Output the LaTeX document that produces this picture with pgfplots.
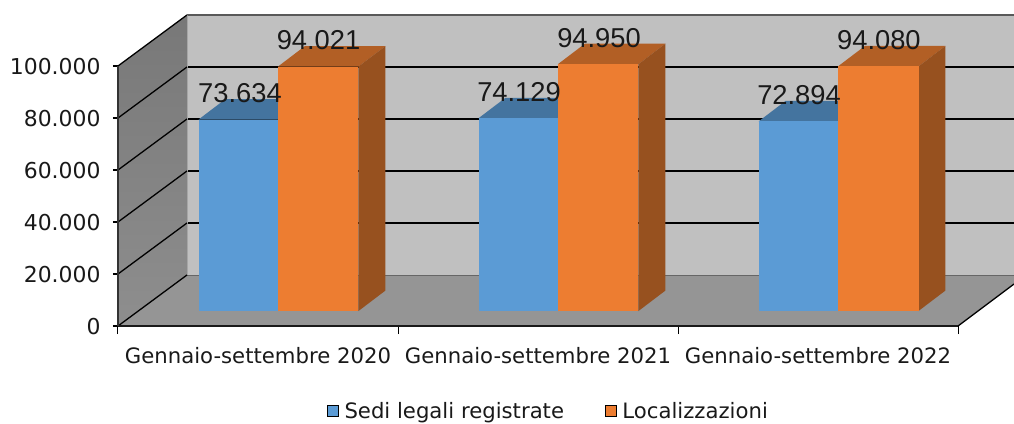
\documentclass[border=0pt]{standalone}
\usepackage{pgfplots}
\pgfplotsset{compat=1.18}
\usepackage{fontspec}
\setmainfont{DejaVu Sans}
\newfontfamily\arial{Liberation Sans}
\definecolor{wallback}{HTML}{C0C0C0}
\definecolor{floorc}{HTML}{959595}
\definecolor{walltop}{HTML}{787878}
\definecolor{wallbot}{HTML}{8E8E8E}
\definecolor{blueF}{HTML}{5B9BD5}
\definecolor{blueT}{HTML}{44749F}
\definecolor{orgF}{HTML}{ED7D31}
\definecolor{orgT}{HTML}{B25F25}
\definecolor{orgS}{HTML}{97511F}
\begin{document}
\begin{tikzpicture}[x=1pt,y=1pt]
\useasboundingbox (-118pt,-97pt) rectangle (896pt,326pt);
\begin{axis}[
  at={(0pt,0pt)}, anchor=origin,
  width=840pt, height=260pt, scale only axis, clip=false,
  xmin=0, xmax=3, ymin=0, ymax=100000,
  axis lines=left, axis line style={-, line width=1.6pt, black!85},
  axis on top=false,
  xtick={0.5,1.5,2.5},
  xticklabels={Gennaio-settembre 2020,Gennaio-settembre 2021,Gennaio-settembre 2022},
  minor xtick={0,1,2,3},
  major x tick style={draw=none},
  minor tick length=8pt,
  minor tick style={line width=1pt,black},
  ytick={0,20000,40000,60000,80000,100000},
  major tick length=5pt,
  tick align=outside,
  y tick style={line width=1.4pt,black},
  scaled y ticks=false,
  /pgf/number format/fixed,
  /pgf/number format/1000 sep={.},
  /pgf/number format/assume math mode=true,
  tick label style={text=black!90},
  yticklabel style={font=\fontsize{21.9}{22}\selectfont, xshift=-9pt, yshift=-1pt},
  xticklabel style={font=\fontsize{21.2}{22}\selectfont, yshift=-13pt},
]
\addplot[forget plot, fill=wallback, draw=none] coordinates {(0.2464,19615)(3.2,19615)(3.2,119615)(0.2464,119615)} --cycle;
\addplot[forget plot, top color=walltop, bottom color=wallbot, draw=none] coordinates {(0,0)(0.2464,19615)(0.2464,119615)(0,100000)} --cycle;
\addplot[forget plot, fill=floorc, draw=none] coordinates {(0,0)(3,0)(3.2,16150)(3.2,19615)(0.2464,19615)} --cycle;
% back wall grid
\addplot[forget plot, black, line width=1.5pt] coordinates {(0.2464,39615)(3.2,39615)};
\addplot[forget plot, black, line width=1.5pt] coordinates {(0.2464,59615)(3.2,59615)};
\addplot[forget plot, black, line width=1.5pt] coordinates {(0.2464,79615)(3.2,79615)};
\addplot[forget plot, black, line width=1.5pt] coordinates {(0.2464,99615)(3.2,99615)};
\addplot[forget plot, black!65, line width=1.5pt] coordinates {(0.2464,119615)(3.2,119615)};
\addplot[forget plot, black!60, line width=0.8pt] coordinates {(0.2464,19615)(3.2,19615)};
\addplot[forget plot, black!35, line width=0.8pt] coordinates {(0.2464,19615)(0.2464,119615)};
% left wall diagonals
\addplot[forget plot, black, line width=1.3pt] coordinates {(0,0)(0.2464,19615)};
\addplot[forget plot, black, line width=1.3pt] coordinates {(0,20000)(0.2464,39615)};
\addplot[forget plot, black, line width=1.3pt] coordinates {(0,40000)(0.2464,59615)};
\addplot[forget plot, black, line width=1.3pt] coordinates {(0,60000)(0.2464,79615)};
\addplot[forget plot, black, line width=1.3pt] coordinates {(0,80000)(0.2464,99615)};
\addplot[forget plot, black, line width=1.3pt] coordinates {(0,100000)(0.2464,119615)};
% floor right edge
\addplot[forget plot, black, line width=1.3pt] coordinates {(3,0)(3.2,16150)};
% front axis edges
\addplot[forget plot, black!90, line width=2.4pt] coordinates {(0,0)(3,0)};
\addplot[forget plot, black!80, line width=1.2pt] coordinates {(0,0)(0,100000)};
\end{axis}
\begin{axis}[
  at={(0pt,15pt)}, anchor=origin,
  width=840pt, height=260pt, scale only axis, clip=false,
  xmin=0, xmax=3, ymin=0, ymax=100000,
  hide axis,
  legend columns=2,
  legend style={at={(0.5125,-0.385)}, anchor=center, draw=none, fill=none,
    font=\fontsize{21.2}{22}\selectfont, text=black!90,
    /tikz/every even column/.style={column sep=39pt}},
  legend image code/.code={\fill[#1] (0pt,-5.5pt) rectangle (11pt,5.5pt);\path (15pt,0pt);},
]
% Blue
\addplot[forget plot, fill=blueT, draw=none] coordinates {(0.2875,73634)(0.5714,73634)(0.6678,81519)(0.3839,81519)} --cycle;
\addplot[forget plot, fill=blueF, draw=none] coordinates {(0.2875,0)(0.2875,73634)(0.5714,73634)(0.5714,0)} --cycle;
\addplot[forget plot, fill=orgT, draw=none] coordinates {(0.5714,94021)(0.8589,94021)(0.9553,101906)(0.6678,101906)} --cycle;
\addplot[forget plot, fill=orgS, draw=none] coordinates {(0.8589,0)(0.9553,7885)(0.9553,101906)(0.8589,94021)} --cycle;
\addplot[forget plot, fill=orgF, draw=none] coordinates {(0.5714,0)(0.5714,94021)(0.8589,94021)(0.8589,0)} --cycle;
%
\addplot[forget plot, fill=blueT, draw=none] coordinates {(1.2875,74129)(1.5714,74129)(1.6678,82014)(1.3839,82014)} --cycle;
\addplot[forget plot, fill=blueF, draw=none] coordinates {(1.2875,0)(1.2875,74129)(1.5714,74129)(1.5714,0)} --cycle;
\addplot[forget plot, fill=orgT, draw=none] coordinates {(1.5714,94950)(1.8589,94950)(1.9553,102835)(1.6678,102835)} --cycle;
\addplot[forget plot, fill=orgS, draw=none] coordinates {(1.8589,0)(1.9553,7885)(1.9553,102835)(1.8589,94950)} --cycle;
\addplot[forget plot, fill=orgF, draw=none] coordinates {(1.5714,0)(1.5714,94950)(1.8589,94950)(1.8589,0)} --cycle;
%
\addplot[forget plot, fill=blueT, draw=none] coordinates {(2.2875,72894)(2.5714,72894)(2.6678,80779)(2.3839,80779)} --cycle;
\addplot[forget plot, fill=blueF, draw=none] coordinates {(2.2875,0)(2.2875,72894)(2.5714,72894)(2.5714,0)} --cycle;
\addplot[forget plot, fill=orgT, draw=none] coordinates {(2.5714,94080)(2.8589,94080)(2.9553,101965)(2.6678,101965)} --cycle;
\addplot[forget plot, fill=orgS, draw=none] coordinates {(2.8589,0)(2.9553,7885)(2.9553,101965)(2.8589,94080)} --cycle;
\addplot[forget plot, fill=orgF, draw=none] coordinates {(2.5714,0)(2.5714,94080)(2.8589,94080)(2.8589,0)} --cycle;
%
\addlegendimage{fill=blueF}\addlegendentry{Sedi legali registrate}
\addlegendimage{fill=orgF}\addlegendentry{Localizzazioni}
\tikzset{dl/.style={font=\arial\fontsize{27.3}{27}\selectfont, anchor=center, text=black!90, yshift=26pt, xshift=1pt, inner sep=0pt}}
\node[dl] at (axis cs:0.432,73634) {73.634};
\node[dl] at (axis cs:0.7125,94021) {94.021};
\node[dl] at (axis cs:1.4286,74129) {74.129};
\node[dl] at (axis cs:1.7143,94950) {94.950};
\node[dl] at (axis cs:2.4286,72894) {72.894};
\node[dl] at (axis cs:2.714,94080) {94.080};
\end{axis}
\end{tikzpicture}
\end{document}
